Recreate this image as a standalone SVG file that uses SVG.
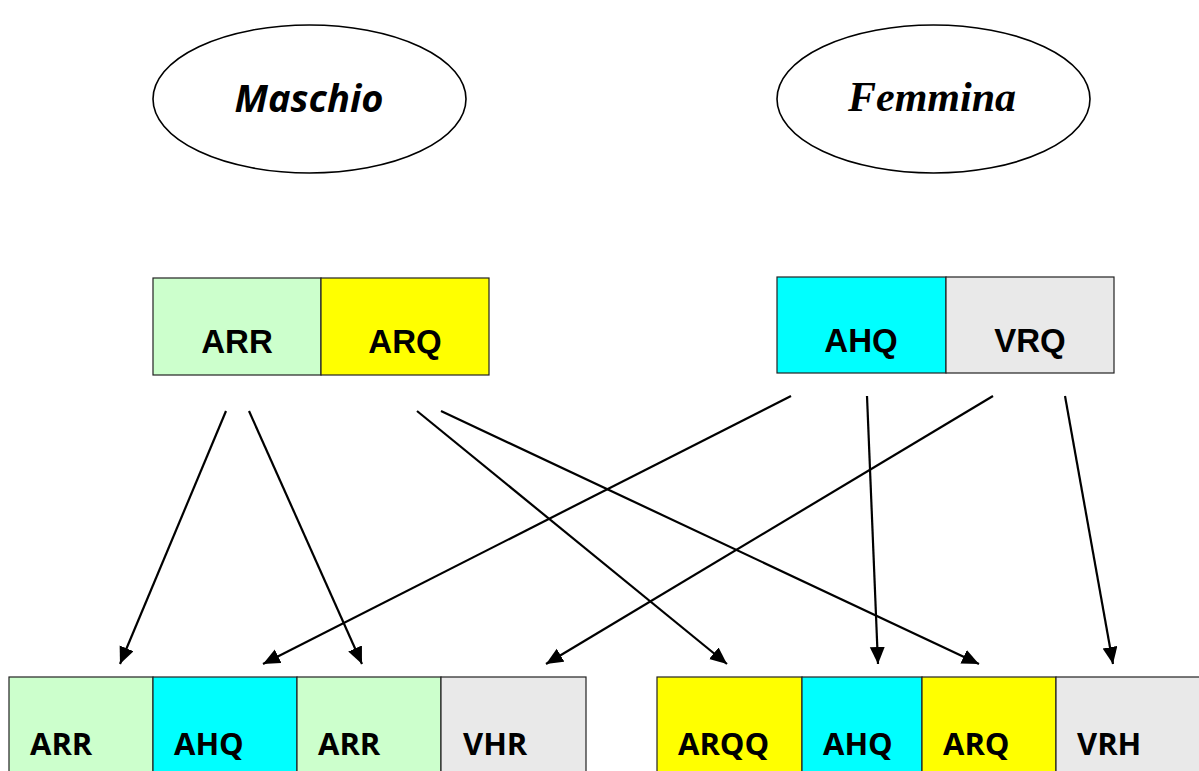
<svg xmlns="http://www.w3.org/2000/svg" width="1199" height="771" viewBox="0 0 1199 771">
<style>
.ell{fill:#fff;stroke:#000;stroke-width:1.6}
.cell{stroke:#222;stroke-width:1.2}
.g{fill:#CCFFCC}.y{fill:#FFFF00}.c{fill:#00FFFF}.v{fill:#E9E9E9}
.tt{font-family:"Liberation Sans",Arial,sans-serif;font-weight:bold;font-size:33px;fill:#000;text-anchor:middle}
.bt{font-family:"Open Sans","Noto Sans",sans-serif;font-weight:bold;font-size:31px;fill:#000}
.conn line{stroke:#000;stroke-width:2.2;marker-end:url(#ah)}
</style>
<defs>
<marker id="ah" markerUnits="userSpaceOnUse" markerWidth="18" markerHeight="16" refX="17" refY="7.5" orient="auto" viewBox="0 0 18 16">
<path d="M0,0 L17,7.5 L0,15 z" fill="#000"/>
</marker>
</defs>
<rect width="1199" height="771" fill="#fff"/>
<g id="maschio">
<ellipse class="ell" cx="309.5" cy="99" rx="156.5" ry="74"/>
<text x="309" y="112" font-family="'Open Sans','Noto Sans',sans-serif" font-weight="bold" font-style="italic" font-size="38" text-anchor="middle">Maschio</text>
</g>
<g id="femmina">
<ellipse class="ell" cx="933.5" cy="99" rx="156.5" ry="74"/>
<text x="932" y="111" font-family="'Liberation Serif','Times New Roman',serif" font-weight="bold" font-style="italic" font-size="42" text-anchor="middle">Femmina</text>
</g>
<g id="padre">
<rect class="cell g" x="153" y="278" width="168" height="97"/>
<rect class="cell y" x="321" y="278" width="168" height="97"/>
<text class="tt" x="237" y="353">ARR</text>
<text class="tt" x="405" y="353">ARQ</text>
</g>
<g id="madre">
<rect class="cell c" x="777" y="277" width="169" height="96"/>
<rect class="cell v" x="946" y="277" width="168" height="96"/>
<text class="tt" x="861" y="352">AHQ</text>
<text class="tt" x="1030" y="352">VRQ</text>
</g>
<g id="figlio1">
<rect class="cell g" x="9" y="677" width="144" height="110"/>
<rect class="cell c" x="153" y="677" width="144" height="110"/>
<rect class="cell g" x="297" y="677" width="144" height="110"/>
<rect class="cell v" x="441" y="677" width="145" height="110"/>
<text class="bt" x="30" y="755">ARR</text>
<text class="bt" x="174" y="755">AHQ</text>
<text class="bt" x="318" y="755">ARR</text>
<text class="bt" x="463" y="755">VHR</text>
</g>
<g id="figlio2">
<rect class="cell y" x="657" y="677" width="145" height="110"/>
<rect class="cell c" x="802" y="677" width="120" height="110"/>
<rect class="cell y" x="922" y="677" width="134" height="110"/>
<rect class="cell v" x="1056" y="677" width="150" height="110"/>
<text class="bt" x="678" y="755">ARQQ</text>
<text class="bt" x="823" y="755">AHQ</text>
<text class="bt" x="943" y="755">ARQ</text>
<text class="bt" x="1077" y="755">VRH</text>
</g>
<g id="connectors" class="conn">
<line x1="226" y1="411" x2="120" y2="664"/>
<line x1="249" y1="411" x2="362" y2="664"/>
<line x1="417" y1="411" x2="727" y2="664"/>
<line x1="441" y1="411" x2="979" y2="664"/>
<line x1="791" y1="396" x2="263" y2="664"/>
<line x1="867" y1="396" x2="878" y2="664"/>
<line x1="993" y1="396" x2="546" y2="664"/>
<line x1="1065" y1="396" x2="1113" y2="664"/>
</g>
</svg>
